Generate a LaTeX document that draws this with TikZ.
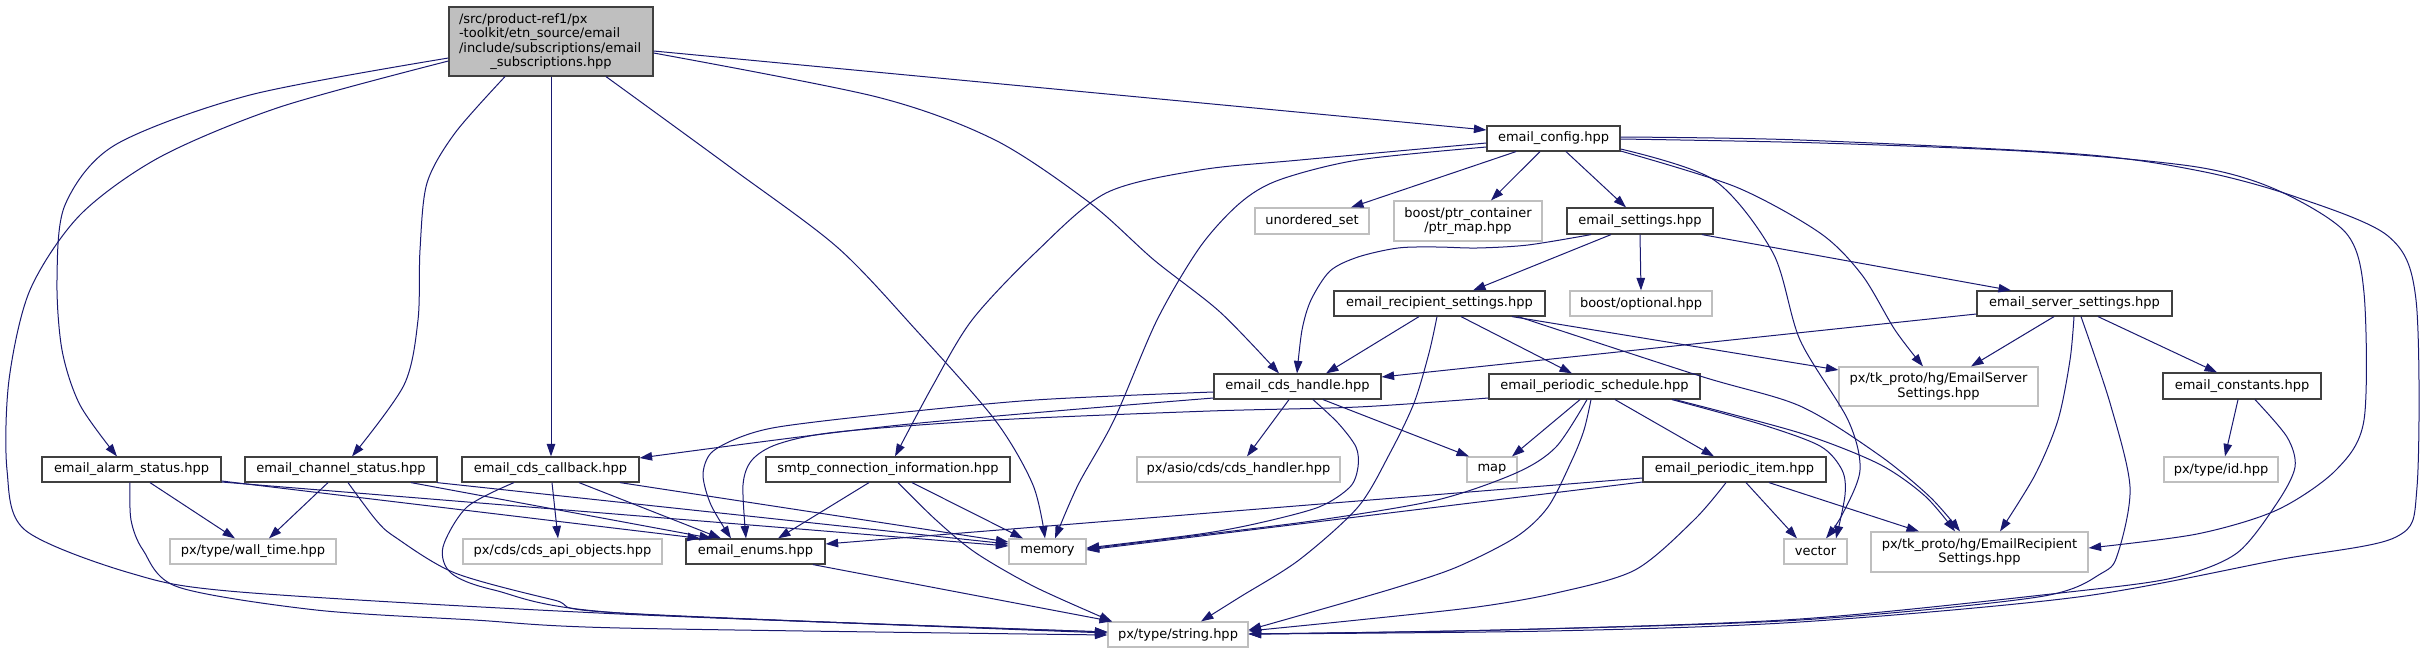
\documentclass[tikz,border=0pt]{standalone}
\usepackage{fontspec}
\setmainfont{DejaVu Sans}
\usetikzlibrary{arrows.meta}
\definecolor{edgeblue}{HTML}{191970}
\definecolor{boxgray}{HTML}{BFBFBF}
\definecolor{boxdark}{HTML}{404040}
\tikzset{
  box/.style={draw=boxdark, line width=1.2pt, fill=white, inner sep=0pt, font=\fontsize{13}{14.5}\selectfont, text=black},
  ext/.style={box, draw=boxgray},
  e/.style={draw=edgeblue, line width=1pt, -{Triangle[length=12.5pt,width=8.5pt]}},
}
\begin{document}
\begin{tikzpicture}[x=1pt,y=-1pt]
\useasboundingbox (0,0) rectangle (2423,653);

% ---- nodes ----
\node[box, fill=boxgray, text width=184pt, inner xsep=10pt, minimum height=69pt, align=left] (root) at (551,41.5)
  {/src/product-ref1/px\\-toolkit/etn\_source/email\\/include/subscriptions/email\\\hspace*{\fill}\_subscriptions.hpp\hspace*{\fill}};
\node[box, minimum width=133pt, minimum height=25pt] (cfg) at (1553.5,138.5) {email\_config.hpp};
\node[ext, minimum width=114pt, minimum height=26pt] (uset) at (1312,221) {unordered\_set};
\node[ext, minimum width=148pt, minimum height=40pt, align=center] (ptrmap) at (1468,221) {boost/ptr\_container\\/ptr\_map.hpp};
\node[box, minimum width=146pt, minimum height=26pt] (settings) at (1640,221) {email\_settings.hpp};
\node[box, minimum width=211pt, minimum height=25pt] (recip) at (1439.5,303.5) {email\_recipient\_settings.hpp};
\node[ext, minimum width=142pt, minimum height=25pt] (optional) at (1641,303.5) {boost/optional.hpp};
\node[box, minimum width=195pt, minimum height=25pt] (server) at (2074.5,303.5) {email\_server\_settings.hpp};
\node[box, minimum width=167pt, minimum height=25pt] (handle) at (1297.5,386.5) {email\_cds\_handle.hpp};
\node[box, minimum width=211pt, minimum height=25pt] (sched) at (1594.5,386.5) {email\_periodic\_schedule.hpp};
\node[ext, minimum width=199pt, minimum height=39pt, align=center] (esrv) at (1938.5,386.5) {px/tk\_proto/hg/EmailServer\\Settings.hpp};
\node[box, minimum width=158pt, minimum height=26pt] (consts) at (2242,386) {email\_constants.hpp};
\node[box, minimum width=179pt, minimum height=25pt] (alarm) at (131.5,469.5) {email\_alarm\_status.hpp};
\node[box, minimum width=192pt, minimum height=25pt] (channel) at (341,469.5) {email\_channel\_status.hpp};
\node[box, minimum width=177pt, minimum height=25pt] (callback) at (550.5,469.5) {email\_cds\_callback.hpp};
\node[box, minimum width=244pt, minimum height=25pt] (smtp) at (888,469.5) {smtp\_connection\_information.hpp};
\node[ext, minimum width=203pt, minimum height=25pt] (handler) at (1238.5,469.5) {px/asio/cds/cds\_handler.hpp};
\node[ext, minimum width=50pt, minimum height=25pt] (map) at (1492,469.5) {map};
\node[box, minimum width=183pt, minimum height=25pt] (item) at (1734.5,469.5) {email\_periodic\_item.hpp};
\node[ext, minimum width=114pt, minimum height=25pt] (id) at (2221,469.5) {px/type/id.hpp};
\node[ext, minimum width=166pt, minimum height=25pt] (wall) at (253,551.5) {px/type/wall\_time.hpp};
\node[ext, minimum width=199pt, minimum height=25pt] (api) at (562.5,551.5) {px/cds/cds\_api\_objects.hpp};
\node[box, minimum width=139pt, minimum height=25pt] (enums) at (755.5,551.5) {email\_enums.hpp};
\node[ext, minimum width=77pt, minimum height=25pt] (memory) at (1047.5,551.5) {memory};
\node[ext, minimum width=63pt, minimum height=25pt] (vector) at (1815.5,551.5) {vector};
\node[ext, minimum width=217pt, minimum height=40pt, align=center] (erecip) at (1979.5,552) {px/tk\_proto/hg/EmailRecipient\\Settings.hpp};
\node[ext, minimum width=140pt, minimum height=25pt] (string) at (1178,634.5) {px/type/string.hpp};

% ---- edges from root ----
\draw[e] plot[smooth] coordinates {(root.west |- 0,58) (250,95) (115,145) (65,205) (57,280) (62,350) (80,405) (117,0 |- alarm.north)};
\draw[e] plot[smooth] coordinates {(root.west |- 0,61) (280,107) (160,157) (80,215) (30,290) (9,380) (7,470) (25,530) (130,573) (240,592) (620,614) (string.west |- 0,632)};
\draw[e] plot[smooth] coordinates {(505,0 |- root.south) (455,133) (427,183) (420,250) (418,320) (404,385) (352,0 |- channel.north)};
\draw[e] (551,0 |- root.south) -- (551,0 |- callback.north);
\draw[e] plot[smooth] coordinates {(606,0 |- root.south) (730,167) (837,247) (916,330) (995,420) (1033,485) (1045,0 |- memory.north)};
\draw[e] plot[smooth] coordinates {(root.east |- 0,53) (877,97) (995,140) (1090,203) (1154,260) (1220,312) (1279,0 |- handle.north)};
\draw[e] (root.east |- 0,51) -- (cfg.west |- 0,130);

% ---- edges from email_config ----
\draw[e] (1516,0 |- cfg.south) -- (1351,0 |- uset.north);
\draw[e] (1540,0 |- cfg.south) -- (1491,0 |- ptrmap.north);
\draw[e] (1566,0 |- cfg.south) -- (1626,0 |- settings.north);
\draw[e] plot[smooth] coordinates {(cfg.west |- 0,143) (1300,160) (1200,170) (1106,193) (1035,253) (972,320) (932,387) (895,0 |- smtp.north)};
\draw[e] plot[smooth] coordinates {(cfg.west |- 0,147) (1358,160) (1279,180) (1240,203) (1200,247) (1157,320) (1114,420) (1078,485) (1055,0 |- memory.north)};
\draw[e] plot[smooth] coordinates {(cfg.east |- 0,149) (1714,180) (1773,253) (1800,340) (1848,420) (1860,470) (1842,515) (1826,0 |- vector.north)};
\draw[e] plot[smooth] coordinates {(cfg.east |- 0,151) (1736,187) (1820,233) (1862,275) (1895,330) (1923,0 |- esrv.north)};
\draw[e] plot[smooth] coordinates {(cfg.east |- 0,139) (1820,143) (2038,152) (2197,167) (2277,190) (2346,233) (2364,293) (2364,420) (2336,470) (2277,510) (2197,534) (erecip.east |- 0,548)};
\draw[e] plot[smooth] coordinates {(cfg.east |- 0,137) (1800,140) (2078,154) (2200,171) (2293,196) (2388,236) (2416,300) (2417,487) (2396,537) (2277,560) (2078,597) (1800,622) (1550,631) (string.east |- 0,634)};

% ---- edges from email_settings ----
\draw[e] plot[smooth] coordinates {(1591,0 |- settings.south) (1528,245) (1477,248) (1437,247) (1398,248) (1358,257) (1330,271) (1311,300) (1302,330) (1297,0 |- handle.north)};
\draw[e] (1611,0 |- settings.south) -- (1473,0 |- recip.north);
\draw[e] (1640,0 |- settings.south) -- (1641,0 |- optional.north);
\draw[e] (1702,0 |- settings.south) -- (2011,0 |- server.north);

% ---- edges from email_recipient_settings ----
\draw[e] (1419,0 |- recip.south) -- (1326,0 |- handle.north);
\draw[e] plot[smooth] coordinates {(1437,0 |- recip.south) (1429,353) (1414,403) (1390,453) (1358,507) (1299,560) (1240,597) (1201,0 |- string.north)};
\draw[e] (1461,0 |- recip.south) -- (1572,0 |- sched.north);
\draw[e] (1512,0 |- recip.south) -- (esrv.west |- 0,370);
\draw[e] plot[smooth] coordinates {(1518,0 |- recip.south) (1700,376) (1800,406) (1879,455) (1930,497) (1960,0 |- erecip.north)};

% ---- edges from email_server_settings ----
\draw[e] (server.west |- 0,314) -- (handle.east |- 0,377);
\draw[e] (2054,0 |- server.south) -- (1971,0 |- esrv.north);
\draw[e] (2098,0 |- server.south) -- (2217,0 |- consts.north);
\draw[e] plot[smooth] coordinates {(2074,0 |- server.south) (2070,360) (2058,420) (2035,475) (2000,0 |- erecip.north)};
\draw[e] plot[smooth] coordinates {(2081,0 |- server.south) (2110,403) (2130,487) (2118,553) (2102,573) (2038,597) (1800,620) (1500,630) (string.east |- 0,634)};

% ---- edges from email_constants ----
\draw[e] (2238,0 |- consts.south) -- (2225,0 |- id.north);
\draw[e] plot[smooth] coordinates {(2255,0 |- consts.south) (2287,437) (2295,467) (2277,503) (2237,553) (2177,577) (2078,591) (1800,619) (1500,630) (string.east |- 0,634)};

% ---- edges from email_cds_handle ----
\draw[e] plot[smooth] coordinates {(handle.west |- 0,398) (900,425) (callback.east |- 0,458)};
\draw[e] plot[smooth] coordinates {(handle.west |- 0,392) (1035,400) (877,415) (778,427) (738,438) (711,453) (703,475) (711,505) (731,0 |- enums.north)};
\draw[e] (1289,0 |- handle.south) -- (1247,0 |- handler.north);
\draw[e] (1323,0 |- handle.south) -- (1469,0 |- map.north);
\draw[e] plot[smooth] coordinates {(1313,0 |- handle.south) (1338,423) (1356,447) (1358,467) (1350,487) (1319,507) (1259,523) (1200,534) (memory.east |- 0,548)};

% ---- edges from email_periodic_schedule ----
\draw[e] plot[smooth] coordinates {(sched.west |- 0,398) (1358,407) (1210,411) (995,420) (837,432) (778,444) (752,460) (743,485) (746,0 |- enums.north)};
\draw[e] (1580,0 |- sched.south) -- (1512,0 |- map.north);
\draw[e] plot[smooth] coordinates {(1587,0 |- sched.south) (1556,447) (1516,473) (1437,500) (1319,520) (1200,535) (memory.east |- 0,549)};
\draw[e] plot[smooth] coordinates {(1591,0 |- sched.south) (1584,430) (1572,460) (1548,507) (1516,537) (1457,567) (1398,587) (1319,610) (string.east |- 0,630)};
\draw[e] (1615,0 |- sched.south) -- (1714,0 |- item.north);
\draw[e] plot[smooth] coordinates {(1672,0 |- sched.south) (1760,424) (1820,446) (1842,470) (1845,495) (1836,0 |- vector.north)};
\draw[e] plot[smooth] coordinates {(1675,0 |- sched.south) (1800,433) (1879,464) (1925,496) (1955,0 |- erecip.north)};

% ---- edges from email_periodic_item ----
\draw[e] (item.west |- 0,478) -- (enums.east |- 0,544);
\draw[e] (item.west |- 0,482) -- (memory.east |- 0,550);
\draw[e] (1746,0 |- item.south) -- (1797,0 |- vector.north);
\draw[e] (1769,0 |- item.south) -- (1919,0 |- erecip.north);
\draw[e] plot[smooth] coordinates {(1726,0 |- item.south) (1694,520) (1635,570) (1556,593) (1477,607) (1358,620) (string.east |- 0,631)};

% ---- edges from email_alarm_status ----
\draw[e] (150,0 |- alarm.south) -- (235,0 |- wall.north);
\draw[e] (alarm.east |- 0,481) -- (700,0 |- enums.north);
\draw[e] (alarm.east |- 0,482) -- (memory.west |- 0,546);
\draw[e] plot[smooth] coordinates {(130,0 |- alarm.south) (131,520) (143,550) (178,587) (316,610) (474,620) (620,628) (string.west |- 0,635)};

% ---- edges from email_channel_status ----
\draw[e] (328,0 |- channel.south) -- (269,0 |- wall.north);
\draw[e] (411,0 |- channel.south) -- (712,0 |- enums.north);
\draw[e] (437,0 |- channel.south) -- (memory.west |- 0,544);
\draw[e] plot[smooth] coordinates {(348,0 |- channel.south) (376,520) (395,537) (455,573) (554,600) (620,613) (string.west |- 0,633)};

% ---- edges from email_cds_callback ----
\draw[e] (552,0 |- callback.south) -- (558,0 |- api.north);
\draw[e] (579,0 |- callback.south) -- (721,0 |- enums.north);
\draw[e] (620,0 |- callback.south) -- (memory.west |- 0,542);
\draw[e] plot[smooth] coordinates {(514,0 |- callback.south) (467,507) (443,547) (451,573) (494,590) (620,613) (string.west |- 0,632)};

% ---- edges from smtp_connection_information ----
\draw[e] (869,0 |- smtp.south) -- (778,0 |- enums.north);
\draw[e] (912,0 |- smtp.south) -- (1023,0 |- memory.north);
\draw[e] plot[smooth] coordinates {(898,0 |- smtp.south) (936,520) (976,553) (1035,587) (1112,0 |- string.north)};

% ---- edges from email_enums ----
\draw[e] (813,0 |- enums.south) -- (1112,0 |- string.north);
\end{tikzpicture}
\end{document}
